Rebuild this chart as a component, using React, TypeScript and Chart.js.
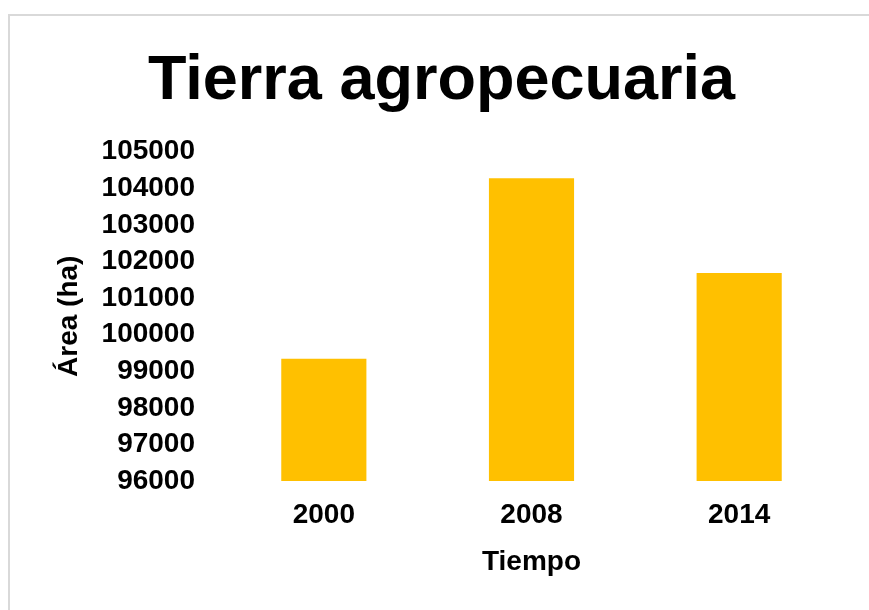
import React, { useEffect, useRef } from "react";
import { Chart, registerables } from "chart.js";

Chart.register(...registerables);

const categories = ["2000", "2008", "2014"];
const areaValues = [99340, 104270, 101680];
const yMin = 96000;
const yMax = 105000;
const yStep = 1000;

const chartTitle = "Tierra agropecuaria";
const xTitle = "Tiempo";
const yTitle = "Área (ha)";

const FONT = "'Liberation Sans', Arial, sans-serif";

export default function App() {
  const ref = useRef<HTMLCanvasElement | null>(null);

  useEffect(() => {
    if (!ref.current) return;
    const chart = new Chart(ref.current, {
      type: "bar",
      data: {
        labels: categories,
        datasets: [
          {
            data: areaValues,
            backgroundColor: "#FFC000",
            borderWidth: 0,
            barPercentage: 0.41,
            categoryPercentage: 1,
          },
        ],
      },
      options: {
        responsive: false,
        animation: false,
        devicePixelRatio: 1,
        layout: { padding: { left: 40, right: 26, top: 0, bottom: 0 } },
        plugins: {
          legend: { display: false },
          tooltip: { enabled: false },
          title: {
            display: true,
            text: chartTitle,
            color: "#000000",
            font: { family: FONT, size: 63, weight: "bold", lineHeight: 1.2 },
            padding: { top: 44, bottom: 32 },
          },
        },
        scales: {
          x: {
            grid: { display: false, drawTicks: false },
            border: { display: false },
            ticks: {
              color: "#000000",
              font: { family: FONT, size: 28, weight: "bold" },
              padding: 17,
            },
            title: {
              display: true,
              text: xTitle,
              color: "#000000",
              font: { family: FONT, size: 28, weight: "bold", lineHeight: 1.2 },
              padding: { top: 0, bottom: 31 },
            },
            afterFit: (s: any) => {
              s.height = 129;
            },
          },
          y: {
            min: yMin,
            max: yMax,
            grid: { display: false, drawTicks: false },
            border: { display: false },
            ticks: {
              stepSize: yStep,
              autoSkip: false,
              color: "#000000",
              font: { family: FONT, size: 28, weight: "bold" },
              padding: 25,
              callback: (v: any) => String(v),
            },
            title: {
              display: true,
              text: yTitle,
              color: "#000000",
              font: { family: FONT, size: 28, weight: "bold", lineHeight: 1.2 },
              padding: { top: 12, bottom: 0 },
            },
            afterFit: (s: any) => {
              s.width = 180;
            },
          },
        },
      },
    });
    return () => chart.destroy();
  }, []);

  return (
    <div style={{ position: "absolute", left: 0, top: 0, width: 869, height: 610, overflow: "hidden", background: "#ffffff" }}>
      <div
        style={{
          position: "absolute",
          left: 8,
          top: 14,
          width: 900,
          height: 700,
          borderTop: "2px solid #d9d9d9",
          borderLeft: "2px solid #d9d9d9",
        }}
      />
      <canvas ref={ref} width={869} height={610} style={{ position: "absolute", left: 0, top: 0 }} />
    </div>
  );
}
